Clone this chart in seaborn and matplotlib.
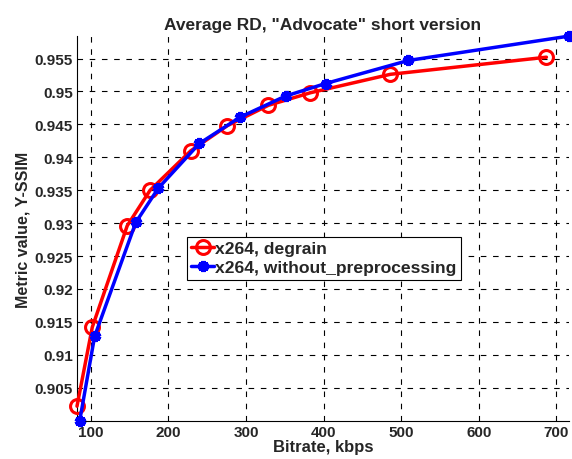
import matplotlib
matplotlib.use("Agg")
import matplotlib.pyplot as plt
import seaborn as sns
import pandas as pd

# Bitrate (kbps) and Y-SSIM for each encoder setting
degrain_bitrate = [82.3, 102, 147, 176.5, 229, 276, 329, 383, 486, 687]
degrain_ssim = [0.9022, 0.9142, 0.9296, 0.9350, 0.9410, 0.9448, 0.9479, 0.9498, 0.9526, 0.9552]

plain_bitrate = [85.8, 105, 158, 187, 240, 292.5, 351, 402.5, 509, 716]
plain_ssim = [0.9000, 0.9128, 0.9301, 0.9353, 0.9421, 0.9461, 0.9493, 0.9512, 0.9547, 0.9584]

x_ticks = [100, 200, 300, 400, 500, 600, 700]
y_ticks = [0.905, 0.91, 0.915, 0.92, 0.925, 0.93, 0.935, 0.94, 0.945, 0.95, 0.955]

sns.set_style("white")
plt.rcParams["font.family"] = ["Liberation Sans", "DejaVu Sans"]

fig = plt.figure(figsize=(5.72, 4.6), dpi=100)
ax = fig.add_axes([0.1346, 0.0833, 0.86, 0.836])

df1 = pd.DataFrame({"x": degrain_bitrate, "y": degrain_ssim})
df2 = pd.DataFrame({"x": plain_bitrate, "y": plain_ssim})

sns.lineplot(data=df1, x="x", y="y", ax=ax, sort=False, color="#ff0000", lw=2.5,
             marker="o", markersize=10, markerfacecolor="none", markeredgecolor="#ff0000",
             markeredgewidth=2.2, label="x264, degrain", zorder=3, clip_on=False)
sns.lineplot(data=df2, x="x", y="y", ax=ax, sort=False, color="#0000ff", lw=2.5,
             marker=(6, 2, 0), markersize=8, markeredgecolor="#0000ff",
             markeredgewidth=3, label="x264, without_preprocessing", zorder=4, clip_on=False)

ax.set_xlim(min(degrain_bitrate), max(plain_bitrate))
ax.set_ylim(min(plain_ssim), max(plain_ssim))
ax.set_xticks(x_ticks)
ax.set_yticks(y_ticks)
ax.set_xticklabels([str(t) for t in x_ticks], fontweight="bold", fontsize=11)
ax.set_yticklabels([("%g" % t) for t in y_ticks], fontweight="bold", fontsize=11)
ax.tick_params(direction="in", length=4, width=0.8, color="black", pad=3)

ax.grid(True, color="black", linestyle=(0, (5, 6)), linewidth=0.8)
for s in ["top", "right"]:
    ax.spines[s].set_visible(False)
for s in ["left", "bottom"]:
    ax.spines[s].set_color("black")
    ax.spines[s].set_linewidth(0.8)

ax.set_xlabel("Bitrate, kbps", fontweight="bold", fontsize=12, labelpad=0)
ax.set_ylabel("Metric value, Y-SSIM", fontweight="bold", fontsize=11.5, labelpad=3)
ax.set_title('Average RD, "Advocate" short version', fontweight="bold", fontsize=12.5, pad=5)

leg = ax.legend(loc="upper left", bbox_to_anchor=(0.2236, 0.478), borderaxespad=0,
                frameon=True, fancybox=False, edgecolor="black", framealpha=1,
                borderpad=0.25, handlelength=1.3, handletextpad=0.05, labelspacing=0.2,
                prop={"weight": "bold", "size": 12.6})
leg.get_frame().set_linewidth(0.8)

fig.savefig("out.png", dpi=100)
